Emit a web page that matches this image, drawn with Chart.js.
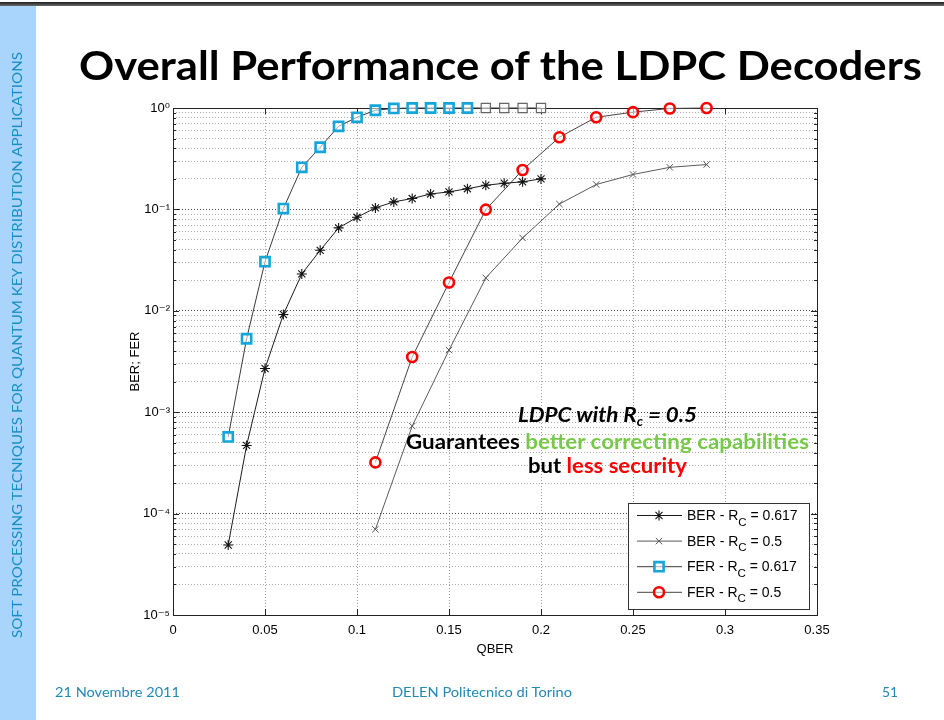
<!DOCTYPE html>
<html>
<head>
<meta charset="utf-8">
<title>Overall Performance of the LDPC Decoders</title>
<script src="https://cdn.jsdelivr.net/npm/chart.js@4.4.0/dist/chart.umd.min.js"></script>
<style>
  html, body { margin: 0; padding: 0; background: #fff; }
  body { width: 944px; height: 720px; position: relative; overflow: hidden; }
  #topbar { position: absolute; left: 0; top: 2px; width: 944px; height: 4px; background: linear-gradient(#1e1e1e, #6a6a6a); }
  #sidebar { position: absolute; left: 0; top: 6px; width: 36px; height: 714px; background: #a9d5fc; }
  #chart { position: absolute; left: 0; top: 0; }
  .txt { position: absolute; left: 0; top: 0; white-space: nowrap; font-family: Lato, "Open Sans", sans-serif; transform-origin: 0 0; line-height: 1.2; }
  .sub { font-size: 0.62em; position: relative; top: 0.32em; }
  .green { color: #78c94a; }
  .red { color: #ff0000; }
  .foot { font-size: 14px; color: #2288b6; }
</style>
</head>
<body>
<div id="topbar"></div>
<div id="sidebar"></div>
<canvas id="chart" width="944" height="720"></canvas>

<div class="txt" id="side" style="font-size:14px;color:#178ec4;">SOFT PROCESSING TECNIQUES FOR QUANTUM KEY DISTRIBUTION APPLICATIONS</div>
<div class="txt" id="title" style="font-size:40px;font-weight:bold;color:#000;">Overall Performance of the LDPC Decoders</div>
<div class="txt" id="note1" style="font-size:20px;font-weight:bold;font-style:italic;color:#000;">LDPC with R<span class="sub">c</span> = 0.5</div>
<div class="txt" id="note2" style="font-size:20px;font-weight:bold;color:#000;">Guarantees <span class="green">better correcting capabilities</span></div>
<div class="txt" id="note3" style="font-size:20px;font-weight:bold;color:#000;">but <span class="red">less security</span></div>
<div class="txt foot" id="foot1">21 Novembre 2011</div>
<div class="txt foot" id="foot2">DELEN Politecnico di Torino</div>
<div class="txt foot" id="foot3">51</div>

<script>
// ---- data ----
const qber617 = [0.03, 0.04, 0.05, 0.06, 0.07, 0.08, 0.09, 0.10, 0.11, 0.12,
                 0.13, 0.14, 0.15, 0.16, 0.17, 0.18, 0.19, 0.20];
const ber617  = [4.9e-5, 4.7e-4, 2.7e-3, 9.2e-3, 0.0231, 0.0395, 0.0657, 0.0836, 0.1035, 0.1186,
                 0.128, 0.142, 0.149, 0.160, 0.173, 0.181, 0.187, 0.200];
const fer617  = [5.7e-4, 5.3e-3, 0.0305, 0.102, 0.26, 0.41, 0.66, 0.81, 0.95, 0.99,
                 1, 1, 1, 1, 1, 1, 1, 1];

const qber05 = [0.11, 0.13, 0.15, 0.17, 0.19, 0.21, 0.23, 0.25, 0.27, 0.29];
const ber05  = [7.0e-5, 7.3e-4, 4.1e-3, 0.0211, 0.0523, 0.113, 0.176, 0.221, 0.26, 0.277];
const fer05  = [3.2e-4, 3.5e-3, 0.019, 0.0995, 0.245, 0.515, 0.81, 0.91, 0.99, 1.0];

const legendKinds = ['BER', 'BER', 'FER', 'FER'];
const legendRates = ['0.617', '0.5', '0.617', '0.5'];

const xTickValues = [0, 0.05, 0.10, 0.15, 0.20, 0.25, 0.30, 0.35];
const xTickLabels = ['0', '0.05', '0.1', '0.15', '0.2', '0.25', '0.3', '0.35'];
const yTickLabels = ['10\u207B\u2075', '10\u207B\u2074', '10\u207B\u00B3', '10\u207B\u00B2', '10\u207B\u00B9', '10\u2070'];

// ---- helpers ----
const AXIS_FONT = "'Liberation Sans', Arial, 'DejaVu Sans', sans-serif";
const toPoints = (xs, ys) => xs.map((x, i) => ({ x: x, y: ys[i] }));

// log-axis tick positions: 1..9 x 10^e for every decade shown
const yTickValues = [];
for (let e = -5; e <= 0; e++) {
  for (let m = 1; m <= 9; m++) {
    const v = m * Math.pow(10, e);
    if (v <= 1.000001) yTickValues.push({ value: v, major: m === 1 });
  }
}

// the last four FER points of the 0.617 code sit at 1 and are drawn in grey
const fer617Colors = fer617.map((v, i) => (i < 14 ? '#14a6da' : '#666666'));
const fer617Widths = fer617.map((v, i) => (i < 14 ? 2.6 : 1.2));

// plot box and inward tick marks
const boxPlugin = {
  id: 'plotBox',
  beforeDatasetsDraw(chart) {
    const { ctx, chartArea: a, scales } = chart;
    ctx.save();
    ctx.strokeStyle = '#222';
    ctx.lineWidth = 1;
    ctx.setLineDash([]);
    ctx.strokeRect(Math.round(a.left) + 0.5, Math.round(a.top) + 0.5,
                   Math.round(a.right - a.left), Math.round(a.bottom - a.top));
    ctx.beginPath();
    scales.y.ticks.forEach(t => {
      const py = Math.round(scales.y.getPixelForValue(t.value)) + 0.5;
      const len = t.major ? 6 : 3;
      ctx.moveTo(a.left, py); ctx.lineTo(a.left + len, py);
      ctx.moveTo(a.right, py); ctx.lineTo(a.right - len, py);
    });
    scales.x.ticks.forEach(t => {
      const px = Math.round(scales.x.getPixelForValue(t.value)) + 0.5;
      ctx.moveTo(px, a.bottom); ctx.lineTo(px, a.bottom - 6);
      ctx.moveTo(px, a.top); ctx.lineTo(px, a.top + 6);
    });
    ctx.stroke();
    ctx.restore();
  }
};

function markerFallback(ctx, style, r, x, y) {
  ctx.beginPath();
  if (style === 'circle') { ctx.arc(x, y, r, 0, Math.PI * 2); ctx.fill(); ctx.stroke(); return; }
  if (style === 'rect') { const s = r * Math.SQRT1_2; ctx.rect(x - s, y - s, 2 * s, 2 * s); ctx.fill(); ctx.stroke(); return; }
  const d = r * Math.SQRT1_2;
  if (style === 'star') { ctx.moveTo(x - r, y); ctx.lineTo(x + r, y); ctx.moveTo(x, y - r); ctx.lineTo(x, y + r); }
  ctx.moveTo(x - d, y - d); ctx.lineTo(x + d, y + d); ctx.moveTo(x - d, y + d); ctx.lineTo(x + d, y - d);
  ctx.stroke();
}

// boxed legend in the lower right corner of the plot
const boxLegend = {
  id: 'boxLegend',
  afterDraw(chart) {
    const ctx = chart.ctx;
    const L = 628, T = 503, W = 181, H = 106;
    ctx.save();
    ctx.setLineDash([]);
    ctx.fillStyle = '#fff';
    ctx.fillRect(L, T, W, H);
    ctx.strokeStyle = '#333';
    ctx.lineWidth = 1;
    ctx.strokeRect(L + 0.5, T + 0.5, W, H);
    chart.data.datasets.forEach((ds, i) => {
      const y = 515.5 + i * 25.6;
      ctx.strokeStyle = ds.borderColor;
      ctx.lineWidth = 1;
      ctx.beginPath();
      ctx.moveTo(637, y); ctx.lineTo(682, y);
      ctx.stroke();
      const pc = Array.isArray(ds.pointBorderColor) ? ds.pointBorderColor[0] : ds.pointBorderColor;
      const pw = Array.isArray(ds.pointBorderWidth) ? ds.pointBorderWidth[0] : ds.pointBorderWidth;
      ctx.strokeStyle = pc;
      ctx.fillStyle = ds.pointBackgroundColor || 'rgba(0,0,0,0)';
      ctx.lineWidth = pw;
      if (Chart.helpers && Chart.helpers.drawPoint) {
        Chart.helpers.drawPoint(ctx, { pointStyle: ds.pointStyle, radius: ds.pointRadius, borderWidth: pw, rotation: 0 }, 659, y);
      } else {
        markerFallback(ctx, ds.pointStyle, ds.pointRadius, 659, y);
      }
      ctx.fillStyle = '#000';
      ctx.textBaseline = 'alphabetic';
      ctx.textAlign = 'left';
      let x = 687;
      const pre = legendKinds[i] + ' - R';
      ctx.font = '14px ' + AXIS_FONT;
      ctx.fillText(pre, x, y + 4.5);
      x += ctx.measureText(pre).width;
      ctx.font = '11.5px ' + AXIS_FONT;
      ctx.fillText('C', x, y + 10);
      x += ctx.measureText('C').width;
      const post = ' = ' + legendRates[i];
      ctx.font = '14px ' + AXIS_FONT;
      ctx.fillText(post, x, y + 4.5);
    });
    ctx.restore();
  }
};

new Chart(document.getElementById('chart'), {
  type: 'line',
  data: {
    datasets: [
      {
        label: 'BER - Rc = 0.617',
        data: toPoints(qber617, ber617),
        borderColor: '#1c1c1c', borderWidth: 1,
        pointStyle: 'star', pointRadius: 5,
        pointBorderColor: '#111', pointBorderWidth: 1.1,
        pointBackgroundColor: 'rgba(0,0,0,0)'
      },
      {
        label: 'BER - Rc = 0.5',
        data: toPoints(qber05, ber05),
        borderColor: '#5a5a5a', borderWidth: 1,
        pointStyle: 'crossRot', pointRadius: 4.5,
        pointBorderColor: '#555', pointBorderWidth: 1,
        pointBackgroundColor: 'rgba(0,0,0,0)'
      },
      {
        label: 'FER - Rc = 0.617',
        data: toPoints(qber617, fer617),
        borderColor: '#3a3a3a', borderWidth: 1,
        pointStyle: 'rect', pointRadius: 6.5,
        pointBorderColor: fer617Colors, pointBorderWidth: fer617Widths,
        pointBackgroundColor: 'rgba(255,255,255,0.55)'
      },
      {
        label: 'FER - Rc = 0.5',
        data: toPoints(qber05, fer05),
        borderColor: '#444', borderWidth: 1,
        pointStyle: 'circle', pointRadius: 5,
        pointBorderColor: '#ff0000', pointBorderWidth: 2.6,
        pointBackgroundColor: 'rgba(255,255,255,0.55)'
      }
    ]
  },
  options: {
    responsive: false,
    animation: false,
    events: [],
    clip: false,
    tension: 0,
    layout: { padding: { left: 124, top: 108, right: 127, bottom: 59 } },
    plugins: { legend: { display: false }, tooltip: { enabled: false } },
    scales: {
      x: {
        type: 'linear', min: 0, max: 0.35,
        afterBuildTicks: s => { s.ticks = xTickValues.map(v => ({ value: v })); },
        afterFit: s => { s.height = 46; },
        ticks: {
          autoSkip: false, maxRotation: 0, padding: 8, color: '#000',
          font: { family: AXIS_FONT, size: 13 },
          callback: (v, i) => xTickLabels[i]
        },
        grid: { drawTicks: false, color: '#9c9c9c', lineWidth: 1, tickBorderDash: [1, 2] },
        border: { display: false, dash: [1, 2] },
        title: {
          display: true, text: 'QBER', color: '#000',
          font: { family: AXIS_FONT, size: 13 }, padding: { top: 2, bottom: 4 }
        }
      },
      y: {
        type: 'logarithmic', min: 1e-5, max: 1,
        afterBuildTicks: s => { s.ticks = yTickValues.map(t => ({ value: t.value, major: t.major })); },
        afterFit: s => { s.width = 49; },
        ticks: {
          autoSkip: false, padding: 3, color: '#000',
          font: { family: AXIS_FONT, size: 13 },
          callback: (v, i, ticks) => (ticks[i] && ticks[i].major) ? yTickLabels[Math.round(Math.log10(v)) + 5] : ''
        },
        grid: {
          drawTicks: false, lineWidth: 1, tickBorderDash: [1, 2],
          color: c => (c.tick && c.tick.major) ? '#4a4a4a' : '#adadad'
        },
        border: { display: false, dash: [1, 2] },
        title: {
          display: true, text: 'BER; FER', color: '#000',
          font: { family: AXIS_FONT, size: 13 }, padding: { top: 4, bottom: 4 }
        }
      }
    }
  },
  plugins: [boxPlugin, boxLegend]
});

// ---- slide text placement (baseline-aligned, width-fitted) ----
function place(id, x, y, opts) {
  const el = document.getElementById(id);
  const mark = document.createElement('span');
  mark.style.cssText = 'display:inline-block;width:0;height:0;vertical-align:baseline;';
  el.appendChild(mark);
  const r = el.getBoundingClientRect();
  const b = mark.getBoundingClientRect().top - r.top;
  const w = r.width;
  const s = opts.width ? opts.width / w : 1;
  const fw = w * s;
  if (opts.rotate) {
    el.style.left = (x - b) + 'px';
    el.style.top = y + 'px';
    el.style.transform = 'rotate(-90deg) scaleX(' + s + ')';
  } else {
    let left = x;
    if (opts.align === 'center') left = x - fw / 2;
    if (opts.align === 'right') left = x - fw;
    el.style.left = left + 'px';
    el.style.top = (y - b) + 'px';
    el.style.transform = 'scaleX(' + s + ')';
  }
}

place('side', 22, 638, { rotate: true, width: 586 });
place('title', 79, 80, { width: 843 });
place('note1', 607.5, 422, { align: 'center', width: 179 });
place('note2', 607.5, 449, { align: 'center', width: 403 });
place('note3', 607.5, 473, { align: 'center', width: 159 });
place('foot1', 55, 697, { width: 125 });
place('foot2', 482, 697, { align: 'center', width: 180 });
place('foot3', 882, 697, { width: 16 });
</script>
</body>
</html>
